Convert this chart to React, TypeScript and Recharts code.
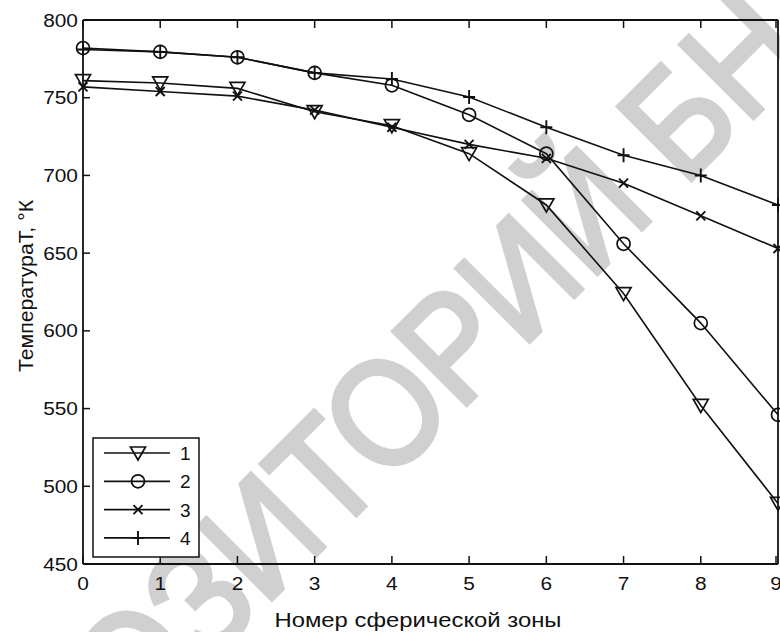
import React from 'react'
import { LineChart, Line, XAxis, YAxis } from 'recharts'

// zone numbers and temperatures (K)
const zones = [0, 1, 2, 3, 4, 5, 6, 7, 8, 9]
const curve1 = [761, 759.5, 756, 741, 732, 714, 681, 624, 552, 489]
const curve2 = [782, 779.5, 776, 766, 758, 739, 714, 656, 605, 546]
const curve3 = [757, 754, 751, 742, 731, 720, 711, 695, 674, 653]
const curve4 = [781, 779.5, 776, 766, 762, 750.5, 731, 713, 700, 681]

const xTicks = [0, 1, 2, 3, 4, 5, 6, 7, 8, 9]
const yTicks = [450, 500, 550, 600, 650, 700, 750, 800]
const legendLabels = ['1', '2', '3', '4']

const W = 780
const H = 632
const PLOT = { left: 83, right: 778, top: 20, bottom: 564 }
const FONT = '"Liberation Sans", Arial, sans-serif'
const INK = '#111'

const data = zones.map((z, i) => ({
  zone: z,
  c1: curve1[i],
  c2: curve2[i],
  c3: curve3[i],
  c4: curve4[i],
}))

function Tri({ cx, cy }: { cx: number; cy: number }) {
  return (
    <polygon
      points={`${cx - 7.5},${cy - 6} ${cx + 7.5},${cy - 6} ${cx},${cy + 7}`}
      fill="none"
      stroke={INK}
      strokeWidth={1.7}
    />
  )
}

function Circ({ cx, cy }: { cx: number; cy: number }) {
  return <circle cx={cx} cy={cy} r={6.5} fill="none" stroke={INK} strokeWidth={1.7} />
}

function Cross({ cx, cy }: { cx: number; cy: number }) {
  const s = 4.5
  return (
    <path
      d={`M${cx - s},${cy - s}L${cx + s},${cy + s}M${cx - s},${cy + s}L${cx + s},${cy - s}`}
      stroke={INK}
      strokeWidth={1.9}
    />
  )
}

function Plus({ cx, cy }: { cx: number; cy: number }) {
  return (
    <path
      d={`M${cx - 6},${cy}L${cx + 6},${cy}M${cx},${cy - 7}L${cx},${cy + 7}`}
      stroke={INK}
      strokeWidth={1.9}
    />
  )
}

const markers = [Tri, Circ, Cross, Plus]

const makeDot = (Shape: any, tag: string) => (p: any) => {
  if (p.cx == null || p.cy == null) return <g key={`${tag}${p.index}`} />
  return (
    <g key={`${tag}${p.index}`}>
      <Shape cx={p.cx} cy={p.cy} />
    </g>
  )
}

// the scan is a little wider than the font, so numbers are stretched
const numText = (v: any) => String(v).length * 11.6

const BottomTick = (p: any) => (
  <g>
    <line x1={p.x} x2={p.x} y1={PLOT.bottom} y2={PLOT.bottom - 8} stroke={INK} strokeWidth={1.5} />
    <text
      x={p.x}
      y={590}
      textAnchor="middle"
      fontSize={18}
      fontFamily={FONT}
      fill={INK}
      textLength={numText(p.payload.value)}
      lengthAdjust="spacingAndGlyphs"
    >
      {p.payload.value}
    </text>
  </g>
)

const TopTick = (p: any) => (
  <line x1={p.x} x2={p.x} y1={PLOT.top} y2={PLOT.top + 8} stroke={INK} strokeWidth={1.5} />
)

const LeftTick = (p: any) => (
  <g>
    <line x1={PLOT.left} x2={PLOT.left + 7} y1={p.y} y2={p.y} stroke={INK} strokeWidth={1.5} />
    <text
      x={78}
      y={p.y + 6.5}
      textAnchor="end"
      fontSize={18}
      fontFamily={FONT}
      fill={INK}
      textLength={numText(p.payload.value)}
      lengthAdjust="spacingAndGlyphs"
    >
      {p.payload.value}
    </text>
  </g>
)

const RightTick = (p: any) => (
  <line x1={PLOT.right} x2={PLOT.right - 7} y1={p.y} y2={p.y} stroke={INK} strokeWidth={1.5} />
)

const XTitle = () => (
  <text
    x={418}
    y={627}
    textAnchor="middle"
    fontSize={19.5}
    fontFamily={FONT}
    fill={INK}
    textLength={287}
    lengthAdjust="spacingAndGlyphs"
  >
    Номер сферической зоны
  </text>
)

const YTitle = () => (
  <text
    x={33}
    y={286}
    transform="rotate(-90 33 286)"
    textAnchor="middle"
    fontSize={20}
    fontFamily={FONT}
    fill={INK}
    textLength={172}
    lengthAdjust="spacingAndGlyphs"
  >
    ТемператураТ, °К
  </text>
)

function Watermark() {
  const wm = {
    fontSize: 150,
    fontFamily: FONT,
    fill: '#d0d0d0',
    stroke: '#d0d0d0',
    strokeWidth: 5,
  }
  return (
    <svg width={W} height={H} style={{ position: 'absolute', left: 0, top: 0 }}>
      <g transform="translate(207 664) rotate(-45) scale(0.89 1)">
        <text x={0} y={0} textAnchor="end" {...wm}>
          РЕПО
        </text>
        <text x={0} y={0} textAnchor="start" {...wm}>
          ЗИТОРИЙ БНТУ
        </text>
      </g>
    </svg>
  )
}

function LegendBox() {
  return (
    <svg width={108} height={121} style={{ position: 'absolute', left: 92, top: 437 }}>
      <rect x={1} y={1} width={106} height={119} fill="#fff" stroke={INK} strokeWidth={1.5} />
      {legendLabels.map((lab, i) => {
        const y = 16 + i * 28.3
        const Shape = markers[i]
        return (
          <g key={lab}>
            <line x1={12} x2={78} y1={y} y2={y} stroke={INK} strokeWidth={1.7} />
            <Shape cx={46} cy={y} />
            <text x={88} y={y + 7} fontSize={19} fontFamily={FONT} fill={INK}>
              {lab}
            </text>
          </g>
        )
      })}
    </svg>
  )
}

const keys = ['c1', 'c2', 'c3', 'c4']

export default function App() {
  return (
    <div style={{ position: 'absolute', left: 0, top: 0, width: W, height: H, background: '#fff' }}>
      <Watermark />
      <div style={{ position: 'absolute', left: 0, top: 0 }}>
        <LineChart width={W} height={H} data={data} margin={{ top: 0, right: 0, bottom: 0, left: 0 }}>
          <XAxis
            xAxisId="b"
            dataKey="zone"
            type="number"
            domain={[0, 9]}
            ticks={xTicks}
            height={H - PLOT.bottom}
            axisLine={{ stroke: INK, strokeWidth: 1.8 }}
            tickLine={false}
            tick={BottomTick}
            label={<XTitle />}
          />
          <XAxis
            xAxisId="t"
            orientation="top"
            dataKey="zone"
            type="number"
            domain={[0, 9]}
            ticks={xTicks}
            height={PLOT.top}
            axisLine={{ stroke: INK, strokeWidth: 1.8 }}
            tickLine={false}
            tick={TopTick}
          />
          <YAxis
            yAxisId="l"
            type="number"
            domain={[450, 800]}
            ticks={yTicks}
            width={PLOT.left}
            axisLine={{ stroke: INK, strokeWidth: 1.8 }}
            tickLine={false}
            tick={LeftTick}
            label={<YTitle />}
          />
          <YAxis
            yAxisId="r"
            orientation="right"
            type="number"
            domain={[450, 800]}
            ticks={yTicks}
            width={W - PLOT.right}
            axisLine={{ stroke: INK, strokeWidth: 1.8 }}
            tickLine={false}
            tick={RightTick}
          />
          {keys.map((k, i) => (
            <Line
              key={k}
              xAxisId="b"
              yAxisId="l"
              dataKey={k}
              type="linear"
              stroke={INK}
              strokeWidth={1.6}
              dot={makeDot(markers[i], k)}
              activeDot={false}
              isAnimationActive={false}
            />
          ))}
        </LineChart>
      </div>
      <LegendBox />
    </div>
  )
}
